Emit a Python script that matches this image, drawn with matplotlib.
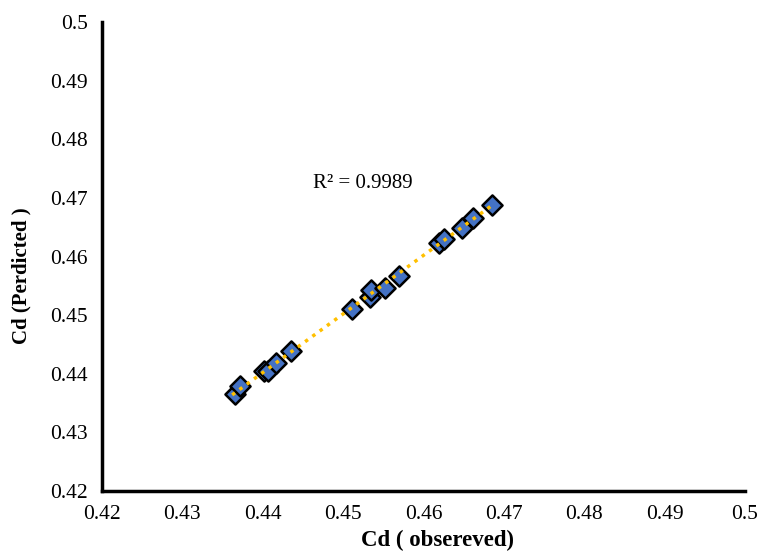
import numpy as np
import matplotlib.pyplot as plt

plt.rcParams['font.family'] = ['Liberation Serif', 'DejaVu Serif']

# observed vs predicted Cd
cd_obs = [0.4365, 0.4372, 0.4402, 0.4407, 0.4416, 0.4435, 0.4511, 0.4533, 0.4535,
          0.4552, 0.4569, 0.4619, 0.4625, 0.4648, 0.4661, 0.4685]
cd_pred = [0.4366, 0.4379, 0.4405, 0.4405, 0.4418, 0.4439, 0.4511, 0.4531, 0.4543,
           0.4546, 0.4567, 0.4623, 0.4630, 0.4649, 0.4666, 0.4688]
ticks = [0.42, 0.43, 0.44, 0.45, 0.46, 0.47, 0.48, 0.49, 0.5]
tick_labels = ['0.42', '0.43', '0.44', '0.45', '0.46', '0.47', '0.48', '0.49', '0.5']
r2_text = 'R² = 0.9989'

fig = plt.figure(figsize=(7.61, 5.54), dpi=100)
ax = fig.add_axes([0.134, 0.114, 0.845, 0.846])

# linear trendline
x = np.array(cd_obs)
y = np.array(cd_pred)
m, b = np.polyfit(x, y, 1)
xl = np.array([x.min() - 0.0003, x.max() + 0.0003])
ax.plot(xl, m * xl + b, linestyle=(0, (1, 1.6)), color='#FFC000', lw=2.5, zorder=3)

ax.scatter(x, y, marker='D', s=105, facecolor='#4472C4', edgecolor='black',
           linewidth=1.8, zorder=2)

ax.text(0.4525, 0.4724, r2_text, fontsize=15, ha='center', va='center')

ax.set_xlim(0.42, 0.5)
ax.set_ylim(0.42, 0.5)
ax.set_xticks(ticks)
ax.set_xticklabels(tick_labels)
ax.set_yticks(ticks)
ax.set_yticklabels(tick_labels)
ax.tick_params(length=0, labelsize=15.5, pad=10)
for s in ['top', 'right']:
    ax.spines[s].set_visible(False)
for s in ['left', 'bottom']:
    ax.spines[s].set_linewidth(2.5)

ax.set_xlabel('Cd ( obsereved)', fontsize=16.5, fontweight='bold')
ax.set_ylabel('Cd (Perdicted )', fontsize=15, fontweight='bold')
ax.xaxis.set_label_coords(0.521, -0.084)
ax.yaxis.set_label_coords(-0.109, 0.458)

fig.savefig('out.png', dpi=100)
